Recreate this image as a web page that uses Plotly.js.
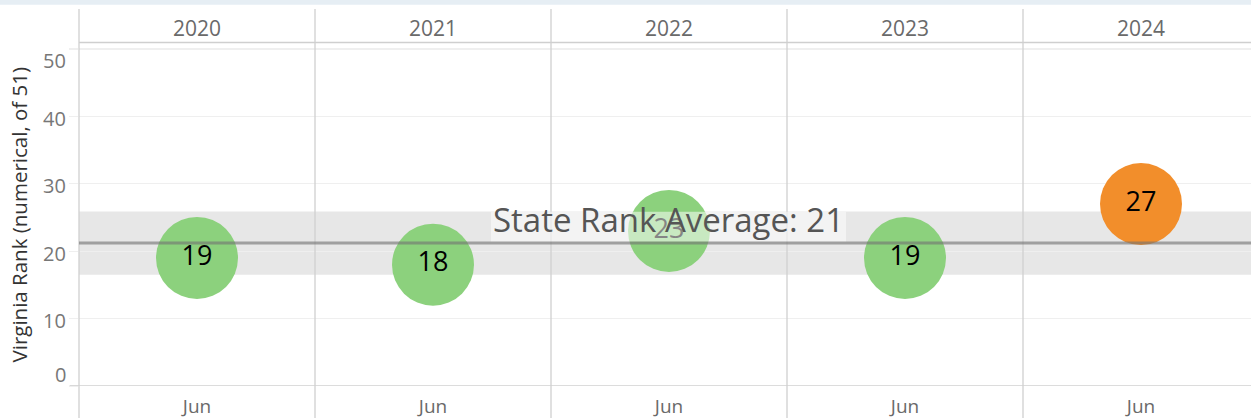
<!DOCTYPE html>
<html>
<head>
<meta charset="utf-8">
<script src="https://cdn.plot.ly/plotly-3.0.1.min.js"></script>
<style>
  html, body { margin: 0; padding: 0; background: #fff; }
  #chart { width: 1251px; height: 418px; }
</style>
</head>
<body>
<div id="chart"></div>
<script>
// Virginia's June state rank per year (out of 51)
const years  = ['2020', '2021', '2022', '2023', '2024'];
const months = ['Jun', 'Jun', 'Jun', 'Jun', 'Jun'];
const ranks  = [19, 18, 23, 19, 27];
const yTicks = [0, 10, 20, 30, 40, 50];

// 95% confidence band around the mean (t critical value for 4 degrees of freedom)
const T_CRIT = 2.776;
const n = ranks.length;
const mean = ranks.reduce((a, b) => a + b, 0) / n;
const sd = Math.sqrt(ranks.reduce((a, v) => a + (v - mean) ** 2, 0) / (n - 1));
const halfWidth = T_CRIT * sd / Math.sqrt(n);
const bandLow = mean - halfWidth;
const bandHigh = mean + halfWidth;

// colours: inside the band green, outside orange
const GREEN = '#8cd17d';
const ORANGE = '#f28e2b';
const markerColors = ranks.map(v => (v > bandHigh || v < bandLow) ? ORANGE : GREEN);

// pixel geometry of the figure
const W = 1251, H = 418;
const M = { l: 79, r: 0, t: 43, b: 32 };
const plotW = W - M.l - M.r;
const plotH = H - M.t - M.b;
const colW = 236;
const pxPerUnit = 6.74;
const xRange = [-0.5, -0.5 + plotW / colW];
const yRange = [0, plotH / pxPerUnit];

const FONT = "'Open Sans', 'Noto Sans', sans-serif";
const xToPaper = v => (v - xRange[0]) / (xRange[1] - xRange[0]);
const pyToPaper = py => (H - M.b - py) / plotH;
const pxToPaper = px => (px - M.l) / plotW;

const shapes = [];
// light strip along the top edge
shapes.push({ type: 'rect', xref: 'paper', yref: 'paper',
  x0: pxToPaper(0), x1: pxToPaper(W), y0: pyToPaper(4.7), y1: pyToPaper(0),
  fillcolor: '#e6eef4', line: { width: 0 }, layer: 'below' });
// confidence band
shapes.push({ type: 'rect', xref: 'paper', yref: 'y',
  x0: 0, x1: 1, y0: bandLow, y1: bandHigh,
  fillcolor: '#e7e7e7', line: { width: 0 }, layer: 'below' });
// column dividers
for (let i = 0; i <= years.length; i++) {
  shapes.push({ type: 'line', xref: 'paper', yref: 'paper',
    x0: xToPaper(i - 0.5), x1: xToPaper(i - 0.5),
    y0: pyToPaper(H), y1: pyToPaper(9),
    line: { color: '#d0d0d0', width: 1.3 }, layer: 'above' });
}
// header rule
shapes.push({ type: 'line', xref: 'paper', yref: 'paper',
  x0: 0, x1: 1, y0: pyToPaper(42.5), y1: pyToPaper(42.5),
  line: { color: '#cfcfcf', width: 1.3 }, layer: 'above' });
// baseline
shapes.push({ type: 'line', xref: 'paper', yref: 'y',
  x0: pxToPaper(70), x1: 1, y0: 0, y1: 0,
  line: { color: '#d0d0d0', width: 1.3 }, layer: 'above' });
// translucent label box for the average line
shapes.push({ type: 'rect', xref: 'paper', yref: 'y',
  x0: pxToPaper(491), x1: pxToPaper(846),
  y0: mean + 0.2, y1: mean + 0.2 + 30 / pxPerUnit,
  fillcolor: 'rgba(255,255,255,0.52)', line: { width: 0 }, layer: 'above' });
// average reference line
shapes.push({ type: 'line', xref: 'paper', yref: 'y',
  x0: 0, x1: 1, y0: mean, y1: mean,
  line: { color: 'rgba(115,115,115,0.62)', width: 3 }, layer: 'above' });

const annotations = [];
years.forEach((yr, i) => {
  annotations.push({ xref: 'x', yref: 'paper', x: i, y: pyToPaper(27.5),
    text: yr, showarrow: false, xanchor: 'center', yanchor: 'middle',
    font: { family: FONT, size: 21, color: '#6a6a6a' } });
});
yTicks.forEach(v => {
  let shift = -2;
  if (v === yTicks[0]) shift = 12;
  if (v === yTicks[yTicks.length - 1]) shift = -11;
  annotations.push({ xref: 'paper', yref: 'y', x: pxToPaper(67.5), y: v, yshift: shift,
    text: String(v), showarrow: false, xanchor: 'right', yanchor: 'middle',
    font: { family: FONT, size: 20, color: '#777777' } });
});
annotations.push({ xref: 'paper', yref: 'paper', x: pxToPaper(18), y: 0.5,
  text: 'Virginia Rank (numerical, of 51)', textangle: -90, showarrow: false,
  xanchor: 'center', yanchor: 'middle',
  font: { family: FONT, size: 20.5, color: '#333333' } });
annotations.push({ xref: 'paper', yref: 'y', x: pxToPaper(668.5), y: mean, yshift: 24,
  text: 'State Rank Average: ' + Math.round(mean), showarrow: false,
  xanchor: 'center', yanchor: 'middle', borderpad: 0,
  font: { family: FONT, size: 33, color: '#555555' } });

const trace = {
  type: 'scatter', mode: 'markers+text',
  x: years.map((_, i) => i), y: ranks,
  text: ranks.map(String), textposition: 'middle center',
  textfont: { family: FONT, size: 27, color: '#000000' },
  marker: { size: 82, color: markerColors, opacity: 1, line: { width: 0 } },
  cliponaxis: false, hoverinfo: 'skip'
};

const layout = {
  width: W, height: H,
  margin: M,
  paper_bgcolor: '#ffffff', plot_bgcolor: 'rgba(0,0,0,0)',
  showlegend: false,
  font: { family: FONT },
  xaxis: {
    range: xRange, tickvals: years.map((_, i) => i), ticktext: months,
    showgrid: false, zeroline: false, showline: false, ticks: '',
    ticklabelstandoff: 7,
    tickfont: { family: FONT, size: 19, color: '#6a6a6a' }, fixedrange: true
  },
  yaxis: {
    range: yRange, tickvals: yTicks, showticklabels: false,
    showgrid: true, gridcolor: '#efefef', gridwidth: 1.3,
    ticks: 'outside', ticklen: 9, tickcolor: '#efefef', tickwidth: 1.3,
    zeroline: false, showline: false, fixedrange: true
  },
  shapes: shapes,
  annotations: annotations
};

Plotly.newPlot('chart', [trace], layout, { displayModeBar: false, staticPlot: true });
</script>
</body>
</html>
